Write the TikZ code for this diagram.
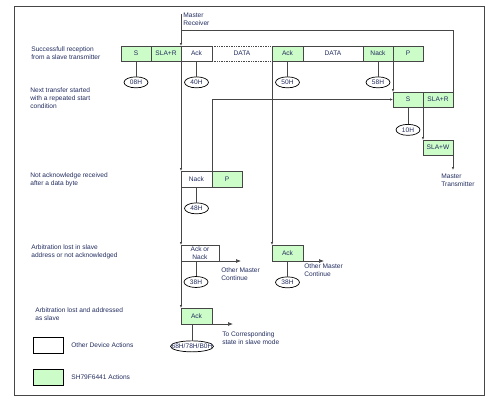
\documentclass[tikz,border=0pt]{standalone}
\usepackage{fontspec}
\setmainfont{Liberation Sans}
\usepackage{tikz}
\usetikzlibrary{positioning,shapes.geometric,arrows.meta}
\definecolor{actgreen}{RGB}{204,252,200}
\definecolor{linegray}{RGB}{70,70,70}
\definecolor{labelblue}{RGB}{35,45,95}
\tikzset{
  box/.style={draw=linegray,minimum width=30pt,minimum height=15pt,inner sep=0pt,outer sep=0pt,text=labelblue},
  act/.style={box,fill=actgreen},
  oval/.style={ellipse,draw=black,minimum width=24pt,minimum height=11pt,inner sep=0pt,text=labelblue},
  lbl/.style={align=left,inner sep=0pt,text=labelblue},
  tip/.style={-{Latex[length=3pt,width=2.5pt]}},
  outarr/.style={-{Latex[length=5pt,width=4pt]}}
}

\begin{document}
\begin{tikzpicture}[x=1pt,y=-1pt,line width=0.7pt,draw=linegray,font=\fontsize{6.6}{8}\selectfont]
\useasboundingbox (0,0) rectangle (503,405);
\draw (14,6) rectangle (484,395);

\node[act] (s1) at (136,53.5) {S};
\node[act,right=0pt of s1] (slar1) {SLA+R};
\node[box,minimum width=31pt,right=0pt of slar1] (ack1) {Ack};
\node[box,minimum width=60pt,densely dotted,right=0pt of ack1] (data1) {DATA};
\node[act,minimum width=31pt,right=0pt of data1] (ack2) {Ack};
\node[box,minimum width=60pt,right=0pt of ack2] (data2) {DATA};
\node[act,right=0pt of data2] (nack1) {Nack};
\node[act,right=0pt of nack1] (p1) {P};

\node[oval,below=15.5pt of s1] (o08) {08H};
\node[oval,below=15.5pt of ack1] (o40) {40H};
\node[oval,below=15.5pt of ack2] (o50) {50H};
\node[oval,below=15.5pt of nack1] (o58) {58H};
\draw (s1) -- (o08);
\draw (ack1) -- (o40);
\draw (ack2) -- (o50);
\draw (nack1) -- (o58);

\node[act,below=31pt of p1] (s2) {S};
\node[act,right=0pt of s2] (slar2) {SLA+R};
\node[act,below=33pt of slar2] (slaw) {SLA+W};
\node[oval,below=17pt of s2] (o10) {10H};
\draw (s2) -- (o10);

\node[box,minimum width=31pt,minimum height=16pt,below=110pt of ack1] (nack2) {Nack};
\node[act,minimum height=16pt,right=0pt of nack2] (p2) {P};
\node[oval,below=15.5pt of nack2] (o48) {48H};
\draw (nack2) -- (o48);

\node[box,minimum width=38pt,minimum height=16pt,align=center,anchor=north west,font=\fontsize{6.6}{7.4}\selectfont] (an) at (181,245) {Ack or\\Nack};
\node[oval] (o38a) at (196,282) {38H};
\draw (o38a |- an.south) -- (o38a);

\node[act,minimum width=31pt,minimum height=16pt,below=184pt of ack2] (ack4) {Ack};
\node[oval,below=15.5pt of ack4] (o38b) {38H};
\draw (ack4) -- (o38b);

\node[act,minimum width=31pt,minimum height=16pt,below=121pt of nack2] (ack5) {Ack};
\node[oval,minimum width=43pt,below=16.5pt of ack5,xshift=-4.5pt] (o68) {};
\node[text=labelblue] at (o68) {68H/78H/B0H};
\draw (o68 |- ack5.south) -- (o68);

\coordinate (mr) at (181,14);
\draw[tip] (mr) -- (ack1.north west);
\draw[tip] (ack1.north west) -- (nack2.north west);
\draw[tip] (nack2.north west) -- (an.north west);
\draw[tip] (an.north west) -- (ack5.north west);
\node[lbl,anchor=north west] at (183,13) {Master\\Receiver};

\draw (mr |- 0,30) -- (slar2.north east |- 0,30) -- (slar2.north east);
\draw[tip] (p1.south west) -- (s2.north west);
\draw[tip] (p2.north west) |- (s2.west);
\draw[tip] (slar2.south west) -- (slaw.north west);
\draw[tip] (slaw.south east) -- ++(0,15) coordinate (mt);
\node[lbl,anchor=north west] at (441,174) {Master\\Transmitter};

\draw[tip] (ack2.south west) -- (ack4.north west);

\draw[outarr] (an.south east) -- ++(22,0) coordinate (om1);
\node[lbl,anchor=north west] at (221,267) {Other Master\\Continue};
\draw[outarr] (ack4.south east) -- ++(21,0) coordinate (om2);
\node[lbl,anchor=north west] at (304,263) {Other Master\\Continue};
\draw[outarr] (ack5.south east) -- ++(21,0) coordinate (tc);
\node[lbl,anchor=north west] at (222,331) {To Corresponding\\state in slave mode};

\node[lbl,anchor=west] at (31,53) {Successfull reception\\from a slave transmitter};
\node[lbl,anchor=west] at (30,98) {Next transfer started\\with a repeated start\\condition};
\node[lbl,anchor=west] at (30,180) {Not acknowledge received\\after a data byte};
\node[lbl,anchor=west] at (31,251.5) {Arbitration lost in slave\\address or not acknowledged};
\node[lbl,anchor=west] at (35,314) {Arbitration lost and addressed\\as slave};

\node[box,minimum height=16pt,anchor=north west,draw=black] (lgw) at (33,337) {};
\node[lbl,right=8pt of lgw] {Other Device Actions};
\node[act,minimum height=16pt,anchor=north west,draw=black] (lgg) at (33,369) {};
\node[lbl,right=8pt of lgg] {SH79F6441 Actions};
\end{tikzpicture}
\end{document}
